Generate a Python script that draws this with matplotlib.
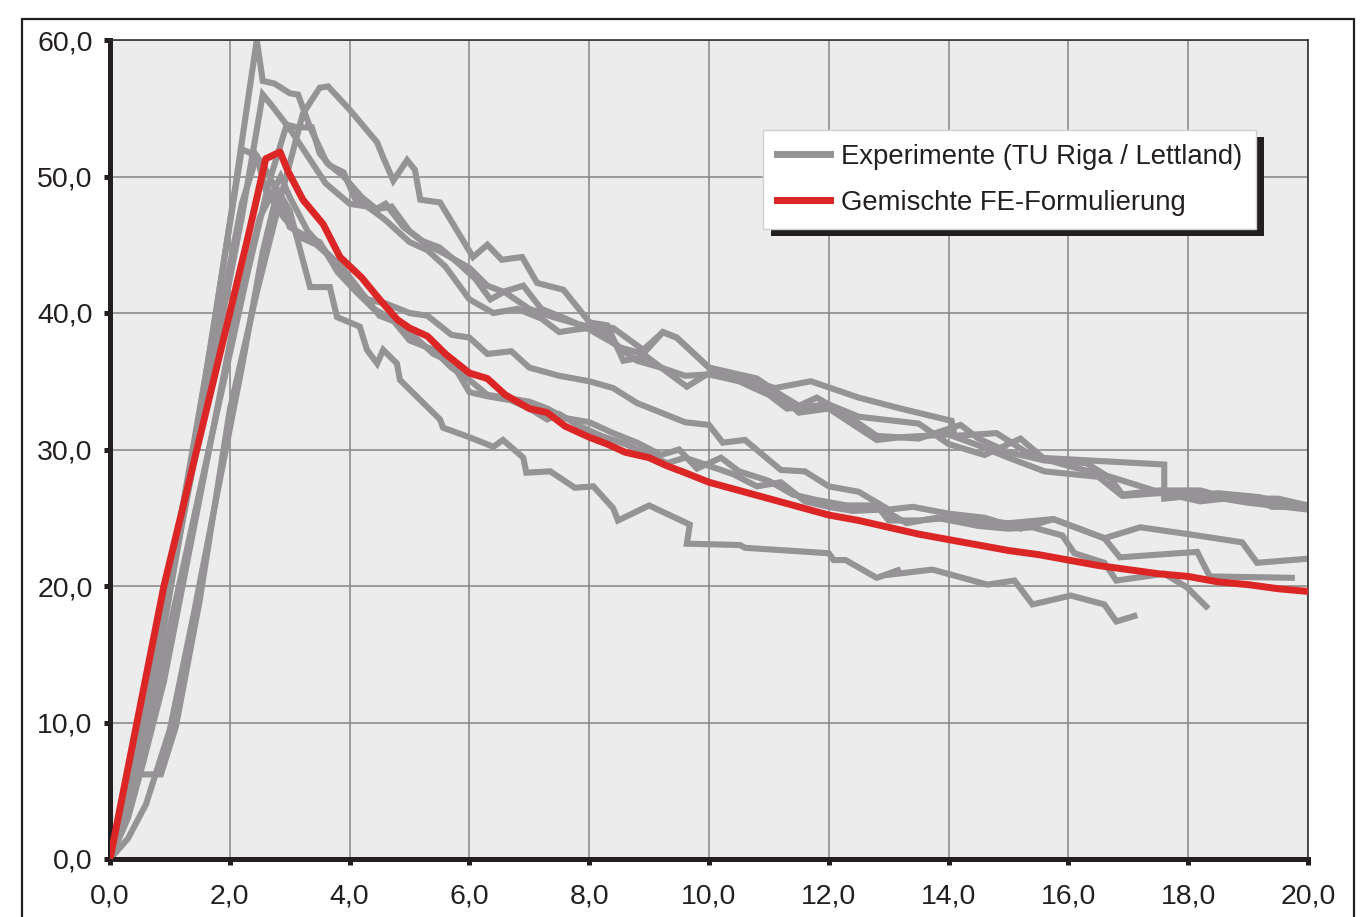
import matplotlib
matplotlib.use("Agg")
import matplotlib.pyplot as plt
from matplotlib.patches import Rectangle
from matplotlib.transforms import IdentityTransform
from matplotlib.ticker import FuncFormatter, MultipleLocator

plt.rcParams['font.family'] = ['Liberation Sans', 'DejaVu Sans']

# ---------------- data ----------------
legend_exp = "Experimente (TU Riga / Lettland)"
legend_fe = "Gemischte FE-Formulierung"

exp1_x = [0, 0.2, 0.5, 0.9, 1.3, 1.7, 2.1, 2.45, 2.55, 2.75, 3.0, 3.14, 3.34, 3.62, 3.9, 4.2, 4.45, 4.7, 5.0,
          5.3, 5.6, 6.0, 6.3, 6.6, 7.0, 7.4, 7.8, 8.2, 8.5, 8.9, 9.23, 9.46, 10.0, 10.4, 10.8, 11.3, 11.5, 12.0,
          12.8, 13.2, 14.0, 14.5, 15.0, 15.6, 16.5, 16.9, 17.5, 18.3, 19.0, 20.0]
exp1_y = [1.0, 3.5, 9.0, 18.0, 28.0, 38.0, 49.5, 60.0, 57.0, 56.8, 56.1, 56.0, 53.6, 51.0, 50.0, 48.5, 47.6, 47.8,
          46.0, 45.0, 44.3, 43.3, 42.0, 41.5, 40.3, 39.7, 39.2, 38.8, 37.5, 37.0, 38.6, 38.2, 36.0, 35.5, 34.8,
          33.5, 32.7, 33.0, 30.7, 30.9, 31.1, 30.3, 29.4, 28.4, 28.0, 26.6, 26.8, 26.6, 26.1, 25.6]

exp2_x = [0, 0.25, 0.4, 0.85, 1.1, 1.5, 2.0, 2.45, 2.84, 3.22, 3.5, 3.64, 4.0, 4.46, 4.56, 4.73, 4.96, 5.09, 5.18,
          5.51, 6.06, 6.3, 6.54, 6.88, 7.13, 7.57, 8.01, 8.3, 8.57, 8.96, 9.63, 10.07, 10.5, 11.1, 11.7, 12.5,
          13.2, 14.05, 14.1, 14.8, 15.3, 15.5, 17.6, 17.6, 18.5, 19.2, 19.9]
exp2_y = [1.5, 3.5, 6.2, 6.2, 9.7, 19.0, 32.9, 41.5, 48.3, 54.6, 56.5, 56.6, 54.9, 52.5, 51.4, 49.7, 51.2, 50.5,
          48.3, 48.1, 44.1, 45.0, 43.9, 44.1, 42.2, 41.7, 39.3, 39.1, 36.5, 36.8, 34.6, 35.8, 35.3, 34.5, 35.0,
          33.8, 33.0, 32.1, 31.0, 31.2, 29.8, 29.4, 28.9, 26.4, 26.8, 26.5, 25.7]

exp3_x = [0, 0.3, 0.6, 1.0, 1.4, 1.8, 2.2, 2.55, 2.8, 3.0, 3.34, 3.67, 3.79, 4.17, 4.29, 4.46, 4.56, 4.79, 4.84,
          5.51, 5.56, 6.0, 6.4, 6.56, 6.9, 6.95, 7.35, 7.76, 8.07, 8.4, 8.48, 9.0, 9.68, 9.63, 10.52, 10.6, 12.0,
          12.08, 12.28, 12.8, 13.2, 12.95, 13.73, 14.65, 15.1, 15.4, 16.04, 16.6, 16.8, 17.1]
exp3_y = [0, 1.5, 4.0, 9.5, 18.0, 27.0, 36.0, 44.5, 49.0, 47.5, 41.9, 41.9, 39.7, 39.0, 37.3, 36.3, 37.3, 36.3,
          35.1, 32.2, 31.6, 30.9, 30.2, 30.7, 29.4, 28.3, 28.4, 27.2, 27.3, 25.7, 24.8, 25.9, 24.5, 23.1, 23.0,
          22.8, 22.4, 21.9, 21.9, 20.6, 21.2, 20.8, 21.2, 20.1, 20.4, 18.65, 19.3, 18.65, 17.4, 17.8]

exp4_x = [0, 0.3, 0.7, 1.1, 1.5, 1.9, 2.3, 2.65, 2.95, 3.12, 3.37, 3.5, 3.67, 3.9, 4.1, 4.4, 4.6, 4.9, 5.2, 5.5,
          5.8, 6.1, 6.35, 6.6, 6.9, 7.2, 7.6, 8.0, 8.4, 8.8, 9.2, 9.6, 10.0, 10.5, 11.0, 11.3, 12.0, 12.5, 13.5,
          14.0, 14.6, 15.2, 15.6, 16.0, 16.7, 17.5, 18.2, 19.0, 19.4, 20.0]
exp4_y = [0.5, 4.0, 11.0, 19.0, 27.0, 35.0, 43.0, 49.5, 53.8, 53.6, 53.6, 51.7, 50.8, 50.3, 48.3, 47.5, 48.0,
          46.3, 45.3, 44.8, 43.7, 42.5, 41.0, 41.6, 42.0, 40.3, 39.6, 38.8, 37.8, 36.5, 36.0, 35.4, 35.5, 35.0,
          34.0, 33.0, 33.3, 32.4, 31.9, 30.4, 29.6, 30.8, 29.3, 28.8, 28.0, 26.9, 26.2, 26.6, 25.8, 25.8]

exp5_x = [0, 0.3, 0.6, 1.0, 1.4, 1.8, 2.2, 2.55, 2.7, 3.0, 3.3, 3.6, 4.0, 4.3, 4.6, 5.0, 5.3, 5.6, 6.0, 6.4, 6.8,
          7.2, 7.5, 7.8, 8.2, 8.4, 8.9, 9.23, 9.46, 10.0, 10.8, 11.2, 11.5, 11.8, 12.3, 12.8, 13.5, 14.2, 14.5,
          15.0, 15.6, 16.3, 16.7, 16.9, 17.5, 18.2, 18.7, 19.5, 20.0]
exp5_y = [0, 5.0, 11.5, 20.0, 29.0, 38.0, 47.0, 56.0, 55.2, 53.5, 51.5, 49.5, 48.0, 47.8, 46.8, 45.2, 44.6,
          43.4, 41.0, 40.0, 40.3, 39.6, 38.6, 38.8, 39.0, 38.9, 37.3, 38.6, 38.2, 36.0, 35.2, 34.0, 33.2, 33.8,
          32.5, 31.0, 30.8, 31.8, 30.8, 29.8, 29.2, 29.0, 27.9, 26.7, 27.0, 27.0, 26.4, 26.4, 25.9]

exp6_x = [0, 0.3, 0.6, 1.0, 1.4, 1.8, 2.2, 2.45, 2.6, 2.9, 3.2, 3.45, 3.7, 4.0, 4.3, 4.6, 5.0, 5.3, 5.7, 6.0,
          6.3, 6.7, 7.0, 7.5, 8.0, 8.4, 8.8, 9.2, 9.6, 10.0, 10.23, 10.6, 11.2, 11.6, 12.0, 12.5, 13.0, 13.4,
          14.0, 14.6, 15.2, 15.75, 16.3, 16.6, 17.2, 18.0, 18.9, 19.15, 20.0]
exp6_y = [0, 5.5, 12.0, 21.0, 30.0, 41.0, 52.0, 51.5, 49.0, 47.0, 45.5, 45.0, 44.0, 42.2, 41.0, 40.7, 40.0,
          39.8, 38.4, 38.2, 37.0, 37.2, 36.0, 35.4, 35.0, 34.5, 33.4, 32.7, 32.0, 31.8, 30.5, 30.7, 28.5, 28.4,
          27.3, 26.9, 25.6, 25.8, 25.3, 25.0, 24.2, 24.9, 24.0, 23.5, 24.3, 23.8, 23.2, 21.7, 22.0]

exp7_x = [0, 0.2, 0.5, 0.9, 1.3, 1.8, 2.2, 2.45, 2.6, 2.8, 3.0, 3.2, 3.5, 3.8, 4.1, 4.4, 4.7, 5.0, 5.4, 5.7,
          6.0, 6.3, 6.6, 7.0, 7.3, 7.6, 8.0, 8.4, 8.8, 9.2, 9.5, 9.8, 10.2, 10.5, 11.0, 11.4, 11.8, 12.3, 12.8,
          13.0, 13.5, 14.0, 15.0, 15.75, 16.6, 16.86, 18.15, 18.36, 19.73]
exp7_y = [0.5, 2.0, 8.0, 17.0, 27.0, 39.0, 48.0, 51.5, 50.5, 48.8, 46.3, 45.8, 45.2, 43.0, 41.6, 40.3, 39.6,
          38.0, 37.3, 36.0, 35.1, 34.0, 33.8, 33.5, 33.0, 32.3, 32.0, 31.2, 30.5, 29.6, 30.0, 28.6, 29.4, 28.4,
          27.7, 26.7, 26.3, 25.9, 25.9, 24.8, 24.8, 25.0, 24.6, 24.9, 23.5, 22.1, 22.5, 20.7, 20.6]

exp8_x = [0, 0.3, 0.55, 0.9, 1.3, 1.7, 2.1, 2.5, 2.85, 3.0, 3.3, 3.6, 3.9, 4.2, 4.5, 4.8, 5.1, 5.4, 5.7, 6.0,
          6.3, 6.7, 7.0, 7.3, 7.5, 7.8, 8.2, 8.6, 9.0, 9.3, 9.6, 10.0, 10.4, 10.8, 11.2, 11.6, 12.0, 12.4, 12.9,
          13.3, 13.8, 14.5, 15.0, 15.4, 15.9, 16.1, 16.6, 16.8, 17.6, 17.98, 18.3]
exp8_y = [0, 3.0, 7.0, 13.0, 22.0, 31.0, 40.0, 47.0, 50.0, 48.5, 46.0, 44.5, 43.2, 41.5, 39.8, 39.3, 38.2,
          37.0, 36.4, 34.2, 33.9, 33.6, 33.0, 32.2, 32.6, 31.8, 31.0, 30.4, 29.6, 29.0, 29.4, 28.8, 28.2, 27.3,
          27.6, 26.2, 25.8, 25.5, 25.6, 24.6, 25.0, 24.4, 24.2, 24.3, 23.7, 22.4, 21.7, 20.4, 20.9, 19.9, 18.5]

fe_x = [0, 0.45, 0.9, 1.45, 2.0, 2.3, 2.6, 2.84, 2.97, 3.22, 3.56, 3.84, 4.2, 4.5, 4.8, 5.0, 5.3, 5.6, 6.0, 6.3,
        6.6, 7.0, 7.3, 7.6, 8.0, 8.3, 8.6, 9.0, 9.3, 9.6, 10.0, 10.5, 11.0, 11.5, 12.0, 12.5, 13.0, 13.5, 14.0,
        14.5, 15.0, 15.5, 16.0, 16.5, 17.0, 17.5, 18.0, 18.5, 19.0, 19.5, 20.0]
fe_y = [0, 10.0, 20.0, 30.0, 40.0, 45.5, 51.3, 51.8, 50.4, 48.3, 46.5, 44.1, 42.6, 41.0, 39.5, 38.9, 38.3,
        37.0, 35.6, 35.2, 34.0, 33.0, 32.7, 31.7, 30.9, 30.4, 29.8, 29.4, 28.8, 28.3, 27.6, 27.0, 26.4, 25.8,
        25.2, 24.8, 24.3, 23.8, 23.4, 23.0, 22.6, 22.3, 21.9, 21.5, 21.2, 20.9, 20.7, 20.3, 20.1, 19.8, 19.6]

experiments = [(exp1_x, exp1_y), (exp2_x, exp2_y), (exp3_x, exp3_y), (exp4_x, exp4_y),
               (exp5_x, exp5_y), (exp6_x, exp6_y), (exp7_x, exp7_y), (exp8_x, exp8_y)]

# ---------------- figure ----------------
W, H = 1372, 917
fig = plt.figure(figsize=(W / 100, H / 100), dpi=100)
ax = fig.add_axes([110 / W, (H - 859) / H, (1308 - 110) / W, (859 - 40) / H])
ax.set_facecolor('#ececec')

gray = '#959395'
red = '#dc2626'
for i, (xs, ys) in enumerate(experiments):
    ax.plot(xs, ys, color=gray, lw=4.4, solid_joinstyle='miter', zorder=2,
            label=legend_exp if i == 0 else None)
ax.plot(fe_x, fe_y, color=red, lw=5.0, solid_joinstyle='round', zorder=3, label=legend_fe)

ax.set_xlim(0, 20)
ax.set_ylim(0, 60)
ax.xaxis.set_major_locator(MultipleLocator(2))
ax.yaxis.set_major_locator(MultipleLocator(10))
fmt = FuncFormatter(lambda v, p: f"{v:.1f}".replace('.', ','))
ax.xaxis.set_major_formatter(fmt)
ax.yaxis.set_major_formatter(fmt)

ax.grid(True, color='#8c8c8c', lw=1.2, zorder=1)
ax.set_axisbelow(True)

txtc = '#231f20'
for s in ['left', 'bottom']:
    ax.spines[s].set_linewidth(3.6)
    ax.spines[s].set_color(txtc)
for s in ['top', 'right']:
    ax.spines[s].set_linewidth(1.2)
    ax.spines[s].set_color('#333333')
ax.tick_params(direction='out', length=4.5, width=3.6, color=txtc, labelsize=20.5,
               labelcolor=txtc, top=False, right=False)
ax.tick_params(axis='x', pad=13)
ax.tick_params(axis='y', pad=8)

leg = ax.legend(loc='upper left', bbox_to_anchor=(0.545, 0.890), borderaxespad=0,
                fontsize=19.8, frameon=True, fancybox=False, framealpha=1,
                edgecolor='#d0d0d0', handlelength=1.95, handletextpad=0.4,
                borderpad=0.5, labelspacing=0.72, labelcolor=txtc)
leg.get_frame().set_linewidth(1.0)
leg.set_zorder(6)
for h in leg.get_lines():
    h.set_linewidth(5.0)

# figure frame
fig.patches.append(Rectangle((22 / W, -0.05), (1354 - 22) / W, (H - 19) / H + 0.05,
                             transform=fig.transFigure, fill=False, lw=1.6,
                             edgecolor=txtc, zorder=0))

fig.canvas.draw()
bb = leg.get_window_extent()
shadow = Rectangle((bb.x0 + 8, bb.y0 - 7), bb.width, bb.height, transform=IdentityTransform(),
                   facecolor=txtc, edgecolor='none', zorder=5.5, clip_on=False)
ax.add_artist(shadow)

fig.savefig('out.png', dpi=100, facecolor='white')
